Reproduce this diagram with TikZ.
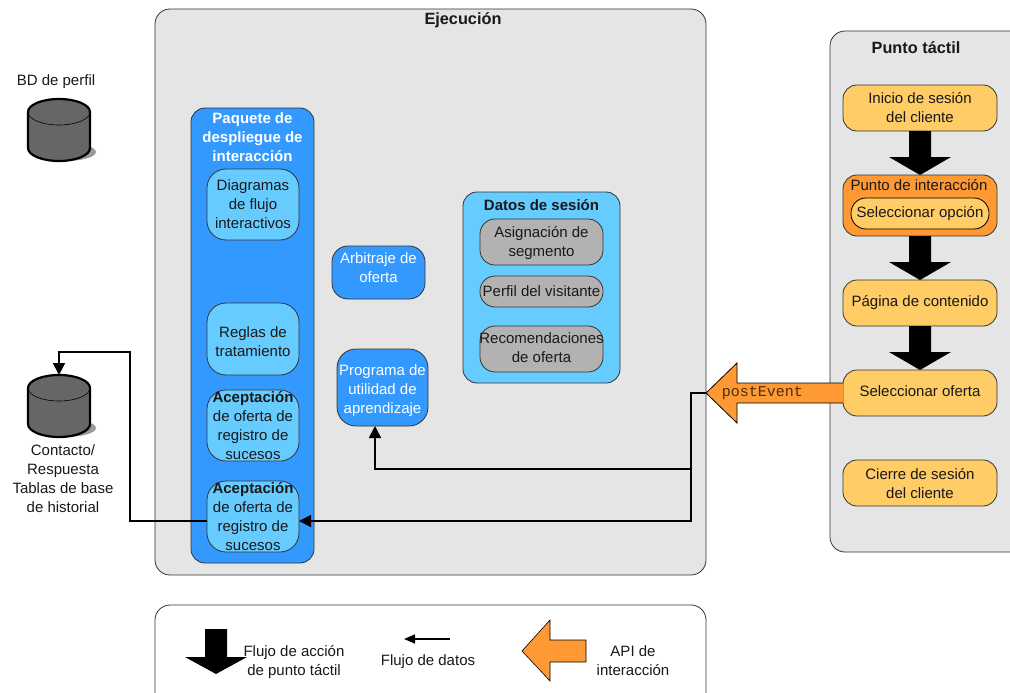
\documentclass[tikz,border=0pt]{standalone}
\usepackage{fontspec}
\setmainfont{Liberation Sans}
\setmonofont{Liberation Mono}
\usetikzlibrary{calc,arrows.meta}
\definecolor{panelgray}{HTML}{E5E5E5}
\definecolor{pkgblue}{HTML}{3399FF}
\definecolor{ltblue}{HTML}{66CCFF}
\definecolor{orangeb}{HTML}{FF9933}
\definecolor{yellowb}{HTML}{FFCC66}
\definecolor{sessgray}{HTML}{B2B2B2}
\definecolor{dbgray}{HTML}{666666}
\definecolor{shadowg}{HTML}{999999}
\definecolor{edgeg}{HTML}{333333}
\newcommand{\tx}[2][0]{\raisebox{\dimexpr-3.5pt-#1pt\relax}[0pt][0pt]{\makebox[0pt]{\begin{tabular}{@{}c@{}}#2\end{tabular}}}}
\newcommand{\bigdown}[2]{\fill[black] ($(#1.south)+(-11,0)$) -- ($(#1.south)+(11,0)$) -- ($(#2.north)+(11,-18)$) -- ($(#2.north)+(31,-18)$) -- (#2.north) -- ($(#2.north)+(-31,-18)$) -- ($(#2.north)+(-11,-18)$) -- cycle;}
\newcommand{\dbshape}[1]{%
 \fill[shadowg] ($(#1.south)+(6,-9)$) ellipse [x radius=31,y radius=9];
 \draw[line width=2.2pt,fill=dbgray] ($(#1.north west)+(0,13)$) arc [start angle=180,end angle=0,x radius=31,y radius=-13] -- ($(#1.south east)+(0,-13)$) arc [start angle=0,end angle=180,x radius=31,y radius=13] -- cycle;
 \draw[line width=.6pt] ($(#1.north west)+(0,13)$) arc [start angle=180,end angle=0,x radius=31,y radius=13];}
\tikzset{x=1pt,y=-1pt,
 every node/.style={inner sep=0pt,outer sep=0pt,font=\fontsize{15}{19}\selectfont,text=black!90},
 panel/.style={draw=edgeg,line width=.8pt,fill=panelgray,rounded corners=15pt},
 bx/.style={draw=edgeg,line width=.8pt,rounded corners=14pt,fill=#1},
 bxr/.style={draw=edgeg,line width=.8pt,rounded corners=19pt,fill=#1},
 hd/.style={font=\fontsize{15}{19}\selectfont\bfseries},
 hdbig/.style={font=\fontsize{16.3}{19}\selectfont\bfseries},
 flow/.style={line width=1.8pt,draw=black,-{Triangle[length=12pt,width=12pt]}}}
\begin{document}
\begin{tikzpicture}
\useasboundingbox (0,0) rectangle (1010,693);
\clip (0,0) rectangle (1010,693);
% panels
\node[panel,minimum width=551,minimum height=566] (ejec) at (430.5,292) {};
\node[panel,minimum width=200,minimum height=521] (punto) at (930,291.5) {};
\node[panel,fill=white,minimum width=551,minimum height=120] (leg) at (430.5,665) {};
\node[hdbig] (ejt) at (463,20) {Ejecución};
\node[hdbig] (put) at (916,48) {Punto táctil};
% package
\node[bx=pkgblue,minimum width=123,minimum height=455] (pkg) at (252.5,335.5) {};
\node[hd,text=white] (pkgt) at (252.5,137.5) {\tx[1]{Paquete de\\despliegue de\\interacción}};
\node[bxr=ltblue,minimum width=92,minimum height=71] (dia) at (253,204.5) {\tx[1.5]{Diagramas\\de flujo\\interactivos}};
\node[bxr=ltblue,minimum width=92,minimum height=72] (reg) at (253,339) {\tx[4]{Reglas de\\tratamiento}};
\node[bxr=ltblue,minimum width=92,minimum height=71] (ac1) at (253,425.5) {\tx[2]{\textbf{Aceptación}\\de oferta de\\registro de\\sucesos}};
\node[bxr=ltblue,minimum width=92,minimum height=71] (ac2) at (253,516.5) {\tx[2]{\textbf{Aceptación}\\de oferta de\\registro de\\sucesos}};
% middle
\node[bx=pkgblue,rounded corners=16pt,minimum width=93,minimum height=53,text=white] (arb) at (378.5,272.5) {\tx[-3]{Arbitraje de\\oferta}};
\node[bxr=pkgblue,minimum width=91,minimum height=77,text=white] (prog) at (382.5,387.5) {\tx[3]{Programa de\\utilidad de\\aprendizaje}};
% session
\node[bx=ltblue,minimum width=157,minimum height=191] (ses) at (541.5,287.5) {};
\node[hd] (sest) at (541.5,205) {Datos de sesión};
\node[bx=sessgray,rounded corners=15pt,minimum width=123,minimum height=46] (asi) at (541.5,242) {\tx[1]{Asignación de\\segmento}};
\node[bx=sessgray,rounded corners=15pt,minimum width=123,minimum height=31] (per) at (541.5,291.5) {\tx[1]{Perfil del visitante}};
\node[bx=sessgray,rounded corners=15pt,minimum width=123,minimum height=46] (rec) at (541.5,349) {\tx{Recomendaciones\\de oferta}};
% touchpoint
\node[bx=yellowb,minimum width=154,minimum height=46] (ini) at (920,108) {\tx[1]{Inicio de sesión\\del cliente}};
\node[bx=orangeb,minimum width=154,minimum height=61] (pi) at (920,205.5) {};
\node (pit) at (919,185) {Punto de interacción};
\node[draw=black,line width=.8pt,fill=yellowb,rounded corners=15pt,minimum width=138,minimum height=31] (sop) at (920,213.5) {\tx{Seleccionar opción}};
\node[bx=yellowb,minimum width=154,minimum height=46] (pag) at (920,303) {\tx{Página de contenido}};
\node[bx=yellowb,minimum width=154,minimum height=46] (sof) at (920,393) {\tx{Seleccionar oferta}};
\node[bx=yellowb,minimum width=154,minimum height=46] (cie) at (920,483) {\tx[2]{Cierre de sesión\\del cliente}};
\bigdown{ini}{pi}
\bigdown{pi}{pag}
\bigdown{pag}{sof}
% databases
\node[minimum width=62,minimum height=62] (db1) at (59,130) {};
\dbshape{db1}
\node (db1t) at (56,82) {BD de perfil};
\node[minimum width=62,minimum height=62] (db2) at (59,406) {};
\dbshape{db2}
\node (db2t) at (63,479) {\tx[1]{Contacto/\\Respuesta\\Tablas de base\\de historial}};
% postEvent
\coordinate (pe) at (706,393);
\draw[line width=.8pt,fill=orangeb,draw=black] (sof.west) ++(0,-10) -- (737,383) -- (737,363) -- (pe) -- (737,423) -- (737,403) -- ($(sof.west)+(0,10)$);
\node[font=\fontsize{15}{19}\selectfont\ttfamily,text=black!70!orangeb] (pet) at (762.5,393) {postEvent};
% connectors
\coordinate (j1) at (691,393);
\coordinate (j2) at (691,469);
\draw[flow] (pe) -- (j1) -- (691,521) -- (ac2.east |- 691,521);
\draw[flow] (j2) -- (375,469) -- (375,426);
\draw[flow] (ac2.west |- 691,521) -- (130,521) -- (130,352) -- (59,352) -- (db2.north |- 59,375);
% legend
\fill[black] (205,629) -- (227,629) -- (227,657) -- (247,657) -- (216,674) -- (185,657) -- (205,657) -- cycle;
\node (l1) at (294,660.5) {\tx[2]{Flujo de acción\\de punto táctil}};
\coordinate (la) at (450,639);
\coordinate (lb) at (404,639);
\draw[line width=1.4pt,-{Triangle[length=11pt,width=9pt]}] (la) -- (lb);
\node (l2) at (428,662) {Flujo de datos};
\draw[black,line width=.6pt,fill=orangeb] (586,640) -- (550,640) -- (550,620) -- (522,651) -- (550,681) -- (550,662) -- (586,662) -- cycle;
\node (l3) at (633,660.5) {\tx[2]{API de\\interacción}};
\end{tikzpicture}
\end{document}
